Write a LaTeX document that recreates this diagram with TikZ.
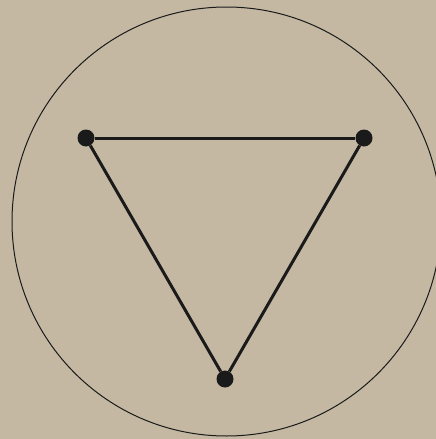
\documentclass[tikz,border=0pt]{standalone}
\usepackage{xcolor}
\usepackage{tikz}
\usetikzlibrary{positioning,calc}
\definecolor{sand}{HTML}{C4B8A3}
\definecolor{ink}{HTML}{1A1A1A}

\begin{document}
\begin{tikzpicture}[
  x=1pt, y=-1pt,
  vert/.style ={circle, fill=ink, inner sep=0pt, minimum size=17pt},
  edge/.style ={draw=ink, line width=3pt},
  ring/.style ={draw=ink, line width=1pt}
]

\fill[sand] (0,0) rectangle (436,439);
\useasboundingbox (0,0) rectangle (436,439);

\coordinate (centre) at (226.5,221.5);
\draw[ring] (centre) circle[radius=214.5];

\node[vert] (left)   at (86,138)  {};
\node[vert] (right)  at (364,138) {};
\node[vert] (bottom) at (225,379) {};

\draw[edge] (left) -- (right);
\draw[edge] (right) -- (bottom);
\draw[edge] (bottom) -- (left);

\end{tikzpicture}
\end{document}
